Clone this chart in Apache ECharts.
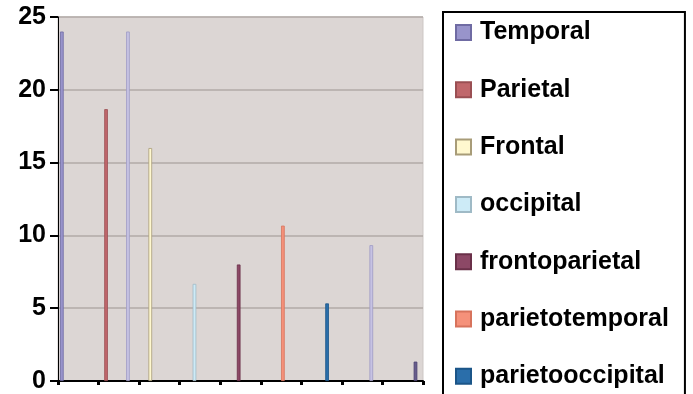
<!DOCTYPE html>
<html>
<head>
<meta charset="utf-8">
<style>html,body{margin:0;padding:0;background:#fff;}#c{width:693px;height:394px;}</style>
<script src="https://cdn.jsdelivr.net/npm/echarts@6/dist/echarts.min.js"></script>
</head>
<body>
<div id="c"></div>
<script>
var categories = ['1','2','3','4','5','6','7','8','9'];
var seriesNames = ['Temporal','Parietal','Frontal','occipital','frontoparietal','parietotemporal','parietooccipital','Series8','Series9','Series10'];
var temporal         = [24, 0, 0, 0, 0, 0, 0, 0, 0];
var parietal         = [0, 18.67, 0, 0, 0, 0, 0, 0, 0];
var frontal          = [0, 0, 16, 0, 0, 0, 0, 0, 0];
var occipital        = [0, 0, 0, 6.67, 0, 0, 0, 0, 0];
var frontoparietal   = [0, 0, 0, 0, 8, 0, 0, 0, 0];
var parietotemporal  = [0, 0, 0, 0, 0, 10.67, 0, 0, 0];
var parietooccipital = [0, 0, 0, 0, 0, 0, 5.33, 0, 0];
var series8          = [0, 24, 0, 0, 0, 0, 0, 9.33, 0];
var series9          = [0, 0, 0, 0, 0, 0, 0, 0, 1.33];
var series10         = [0, 0, 0, 0, 0, 0, 0, 0, 0];
var yTicks = [0, 5, 10, 15, 20, 25];
var legendShown = ['Temporal','Parietal','Frontal','occipital','frontoparietal','parietotemporal','parietooccipital'];

var allData = [temporal, parietal, frontal, occipital, frontoparietal, parietotemporal, parietooccipital, series8, series9, series10];
var colors  = ['#9894cb','#c0676b','#fff8cf','#cdebf7','#8c4866','#f5917a','#2a6eaa','#c6c2e3','#675d8c','#a0a0a0'];
var borders = ['#6f6ba3','#9a4f53','#a89c78','#9fbac6','#6a3049','#d7735c','#1b5588','#9e9ac4','#4a4070','#888888'];

var chart = echarts.init(document.getElementById('c'));
var series = seriesNames.map(function (n, i) {
  return {
    name: n, type: 'bar',
    data: allData[i].map(function (v) { return v === 0 ? null : v; }),
    barGap: '0%', barCategoryGap: '10%',
    itemStyle: { color: colors[i], borderColor: borders[i], borderWidth: 0.8 },
    silent: true
  };
});
chart.setOption({
  animation: false,
  grid: { left: 58, right: 270, top: 17, bottom: 13, show: true,
          backgroundColor: '#dcd6d4', borderColor: '#cdc7c5', borderWidth: 1 },
  xAxis: {
    type: 'category', data: categories,
    axisLabel: { show: false },
    axisLine: { show: true, lineStyle: { color: '#000', width: 2 } },
    axisTick: { show: true, length: 4, lineStyle: { color: '#000', width: 3 } },
    splitLine: { show: false }
  },
  yAxis: {
    type: 'value', min: yTicks[0], max: yTicks[yTicks.length - 1], interval: 5,
    axisLine: { show: true, lineStyle: { color: '#000', width: 1 } },
    axisTick: { show: true, length: 8, lineStyle: { color: '#000', width: 2 } },
    axisLabel: { margin: 12, color: '#000', fontFamily: 'Liberation Sans, Arial, sans-serif',
                 fontWeight: 'bold', fontSize: 25 },
    splitLine: { show: true, lineStyle: { color: '#b2aaa7', width: 1.5 } }
  },
  legend: {
    data: legendShown, orient: 'vertical', left: 443, top: 12, height: 460,
    padding: [8, 16, 30, 12],
    borderColor: '#000', borderWidth: 2, backgroundColor: '#fff',
    itemWidth: 15, itemHeight: 15, itemGap: 32.3,
    icon: 'rect',
    textStyle: { color: '#000', fontFamily: 'Liberation Sans, Arial, sans-serif',
                 fontWeight: 'bold', fontSize: 25, lineHeight: 24, padding: [0, 0, 0, 4] },
    selectedMode: false
  },
  series: series
});
</script>
</body>
</html>
